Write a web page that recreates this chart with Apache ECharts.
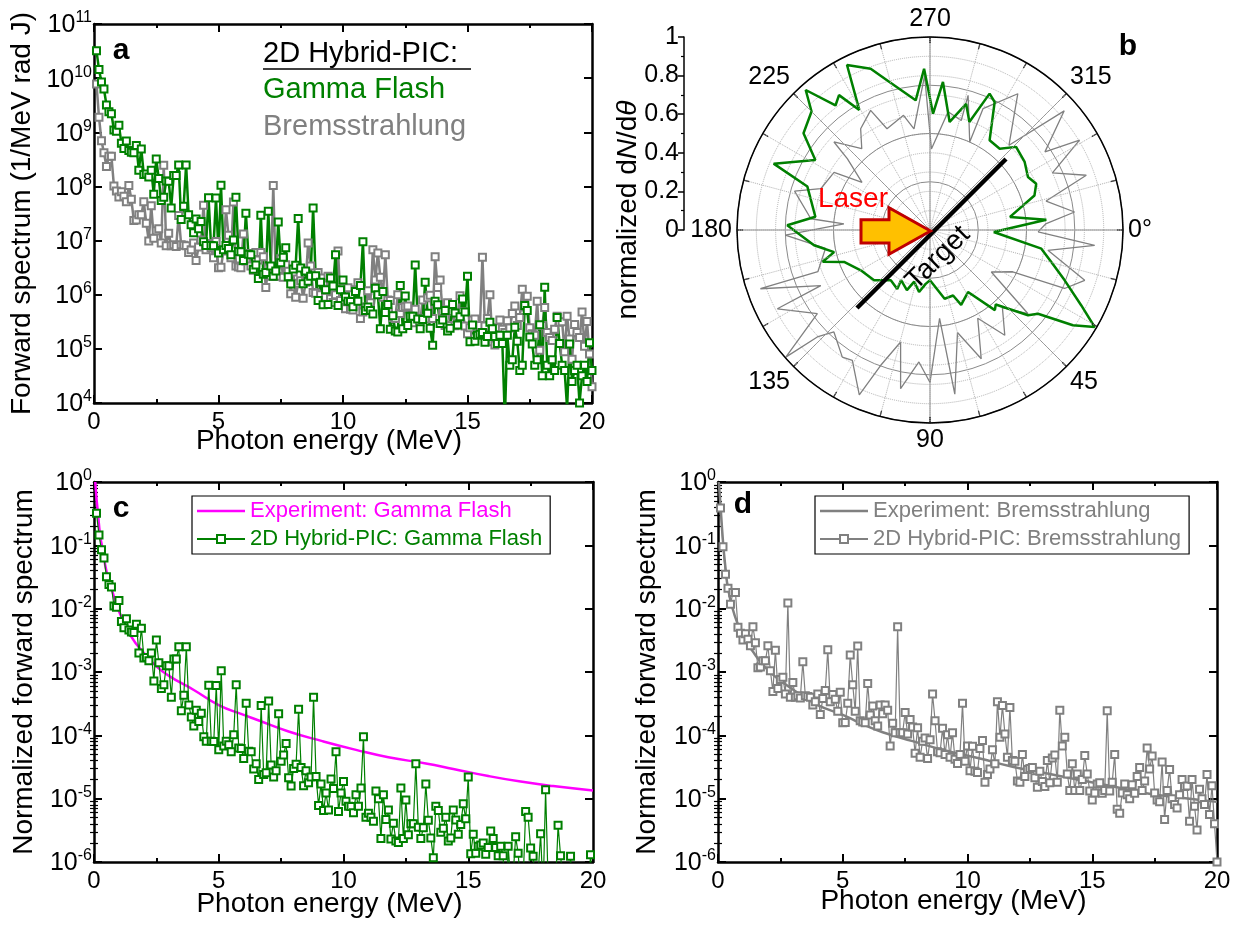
<!DOCTYPE html>
<html><head><meta charset="utf-8">
<script src="https://cdn.jsdelivr.net/npm/echarts@6/dist/echarts.min.js"></script>
<style>html,body{margin:0;padding:0;background:#fff}#chart{width:1244px;height:926px}</style>
</head><body><div id="chart"></div>
<script>
// ---------------- DATA ----------------
const energyMeV = [
0.1,0.2,0.3,0.4,0.5,0.6,0.7,0.8,0.9,1.0,
1.1,1.2,1.3,1.4,1.5,1.6,1.7,1.8,1.9,2.0,
2.1,2.2,2.3,2.4,2.5,2.6,2.7,2.8,2.9,3.0,
3.1,3.2,3.3,3.4,3.5,3.6,3.7,3.8,3.9,4.0,
4.1,4.2,4.3,4.4,4.5,4.6,4.7,4.8,4.9,5.0,
5.1,5.2,5.3,5.4,5.5,5.6,5.7,5.8,5.9,6.0,
6.1,6.2,6.3,6.4,6.5,6.6,6.7,6.8,6.9,7.0,
7.1,7.2,7.3,7.4,7.5,7.6,7.7,7.8,7.9,8.0,
8.1,8.2,8.3,8.4,8.5,8.6,8.7,8.8,8.9,9.0,
9.1,9.2,9.3,9.4,9.5,9.6,9.7,9.8,9.9,10.0,
10.1,10.2,10.3,10.4,10.5,10.6,10.7,10.8,10.9,11.0,
11.1,11.2,11.3,11.4,11.5,11.6,11.7,11.8,11.9,12.0,
12.1,12.2,12.3,12.4,12.5,12.6,12.7,12.8,12.9,13.0,
13.1,13.2,13.3,13.4,13.5,13.6,13.7,13.8,13.9,14.0,
14.1,14.2,14.3,14.4,14.5,14.6,14.7,14.8,14.9,15.0,
15.1,15.2,15.3,15.4,15.5,15.6,15.7,15.8,15.9,16.0,
16.1,16.2,16.3,16.4,16.5,16.6,16.7,16.8,16.9,17.0,
17.1,17.2,17.3,17.4,17.5,17.6,17.7,17.8,17.9,18.0,
18.1,18.2,18.3,18.4,18.5,18.6,18.7,18.8,18.9,19.0,
19.1,19.2,19.3,19.4,19.5,19.6,19.7,19.8,19.9,20.0];

// 2D Hybrid-PIC gamma flash, normalized (panel c)
const gammaFlashNorm = [
3.2e-1,1.45e-1,8.5e-2,6.3e-2,3.2e-2,2.4e-2,2.2e-2,1.1e-2,1.05e-2,1.35e-2,
6.3e-3,5.0e-3,6.9e-3,4.6e-3,4.3e-3,4.2e-3,5.7e-3,2.0e-3,4.9e-3,1.66e-3,
1.7e-3,1.5e-3,2.0e-3,7.2e-4,3.2e-3,1.4e-3,5.5e-4,6.3e-4,1.26e-3,1.25e-3,
4.0e-4,1.6e-3,1.6e-3,2.5e-3,2.45e-4,4.3e-4,2.5e-3,3.0e-4,1.95e-4,1.4e-4,
2.5e-4,1.66e-4,2.24e-4,9.5e-5,8.1e-5,6.2e-4,8.1e-5,8.0e-5,6.1e-4,5.9e-5,
1.05e-3,6.8e-5,8.1e-5,7.1e-5,5.5e-5,1.02e-4,6.3e-4,6.3e-5,6.2e-5,4.3e-5,
3.2e-4,5.6e-5,5.5e-5,2.95e-5,3.55e-5,2.0e-5,2.95e-4,2.4e-5,2.57e-5,3.47e-4,
3.4e-5,2.2e-5,2.75e-5,2.2e-4,3.9e-5,4.9e-5,7.4e-5,2.14e-5,1.58e-5,3.0e-5,
3.5e-5,2.57e-4,3.1e-5,1.6e-5,2.75e-5,1.78e-5,2.2e-5,4.0e-4,2.24e-5,7.8e-6,
1.7e-5,6.5e-6,1.23e-5,6.6e-6,2.04e-5,1.45e-5,5.5e-5,6.3e-6,1.23e-5,1.86e-5,
9.1e-6,7.6e-6,7.5e-6,6.0e-6,1.15e-5,7.6e-6,1.48e-5,9.5e-5,5.1e-6,5.9e-6,
5.1e-6,4.4e-6,1.32e-5,1.0e-5,2.34e-6,1.15e-5,4.7e-6,6.6e-6,2.3e-6,4.1e-6,
2.14e-6,2.04e-6,1.48e-5,2.34e-6,9.5e-6,2.7e-6,4.0e-6,4.0e-6,3.55e-5,3.55e-6,
2.34e-6,3.47e-6,1.7e-5,4.57e-6,2.4e-6,1.17e-6,7.6e-6,6.5e-6,2.95e-6,3.4e-6,
5.1e-6,2.14e-6,2.4e-6,6.6e-6,4.6e-6,2.75e-6,3.9e-6,8.3e-6,4.8e-6,2.2e-5,
1.35e-6,2.75e-6,1.38e-6,1.78e-6,1.86e-6,2.0e-6,1.32e-6,1.7e-6,3.1e-6,2.34e-6,
1.7e-6,1.26e-6,1.78e-6,1.26e-6,5e-8,1.78e-6,5e-7,6.3e-7,2.5e-6,1.38e-6,
4e-7,5e-7,6.3e-6,5.1e-6,1.66e-6,1.23e-6,5e-7,6.3e-7,2.8e-6,3.2e-7,
1.38e-5,5e-7,3.2e-7,6.3e-7,4e-7,3.8e-6,1.26e-6,5e-7,4e-7,8e-8,
1.23e-6,2.5e-7,4e-7,5e-7,1e-7,3.2e-7,5e-7,2.5e-7,1.3e-6,4e-7];

// 2D Hybrid-PIC bremsstrahlung, normalized (panel d)
const bremsNorm = [
3.9e-1,9.5e-2,3.5e-2,2.1e-2,1.17e-2,1.8e-2,1.8e-2,5.1e-3,4.1e-3,3.2e-3,
4.0e-3,3.3e-3,2.6e-3,5.2e-3,2.9e-3,1.17e-3,1.2e-3,1.5e-3,1.5e-3,2.6e-3,
1.05e-3,4.9e-4,2.2e-3,5.5e-4,7.6e-4,8.3e-4,4.5e-4,1.23e-2,4.0e-4,6.8e-4,
4.0e-4,4.2e-4,3.9e-4,1.45e-3,4.2e-4,4.1e-4,4.0e-4,3.0e-4,3.4e-4,4.5e-4,
2.14e-4,3.8e-4,5.1e-4,2.24e-3,3.4e-4,4.4e-4,3.7e-4,2.4e-4,4.8e-4,1.58e-4,
1.6e-4,3.2e-4,1.86e-3,6.3e-4,2.4e-4,2.57e-3,1.7e-4,1.62e-4,1.58e-4,6.6e-4,
2.1e-4,2.9e-4,1.7e-4,1.41e-4,3.0e-4,2.2e-4,3.0e-4,2.5e-4,6.8e-5,1.55e-4,
1.1e-4,5.2e-3,1.1e-4,1.1e-4,2.3e-4,1.05e-4,1.78e-4,1.35e-4,5.2e-5,1.32e-4,
4.5e-5,8.1e-5,9.1e-5,4.3e-5,8.5e-5,4.5e-4,1.7e-4,5.5e-5,5.3e-5,1.29e-4,
5.0e-5,1.02e-4,4.5e-5,1.1e-4,4.2e-5,3.6e-5,5.0e-5,3.2e-4,3.9e-5,6.8e-5,
2.75e-5,6.7e-5,2.7e-5,2.6e-5,6.2e-5,8.3e-5,1.82e-5,2.4e-5,2.95e-5,5.9e-5,
3.55e-5,3.4e-4,9.3e-5,2.95e-4,1.05e-4,4.5e-5,2.75e-4,4.0e-5,3.9e-5,1.9e-5,
1.82e-5,5.0e-5,2.24e-5,2.9e-5,3.0e-5,3.1e-5,2.14e-5,1.51e-5,2.7e-5,1.86e-5,
1.55e-5,4.0e-5,1.78e-5,4.4e-5,4.9e-5,1.82e-5,2.5e-4,6.8e-5,9.3e-5,2.45e-5,
1.35e-5,3.55e-5,1.35e-5,2.45e-5,1.34e-5,2.0e-5,4.8e-5,2.45e-5,1.32e-5,9.5e-6,
1.23e-5,1.7e-5,1.78e-5,1.22e-5,1.35e-5,2.45e-4,1.32e-5,1.82e-5,5.0e-5,6.8e-6,
5.9e-6,1.23e-5,1.7e-5,1.15e-5,1.0e-5,1.66e-5,1.22e-5,2.24e-5,3.1e-5,1.35e-5,
1.9e-5,6.3e-5,2.95e-5,4.7e-5,1.23e-5,9.5e-6,8.9e-6,3.8e-5,4.7e-6,1.35e-5,
2.9e-5,1.0e-5,8.1e-6,7.1e-6,1.15e-5,2.0e-5,1.55e-5,1.58e-5,4.4e-6,2.0e-5,
7.6e-6,3.2e-6,1.41e-5,1.0e-5,8.1e-6,2.4e-5,5.6e-6,1.6e-5,4.0e-6,1.0e-6];

// normalization factors between absolute (panel a) and normalized (panels c, d) spectra
const GAMMA_FLASH_NORM_FACTOR = 1e11;
const BREMS_NORM_FACTOR = 2e10;

// experiment fits (panels c, d)
const expGammaE   = [0.05,0.1,0.15,0.25,0.35,0.5,0.75,1,1.5,2,2.5,3,4,5,6,6.5,7.8,9.15,10.5,11.8,13.3,14.4,15.75,17.1,18.4,20];
const expGammaVal = [1.0,0.55,0.35,0.14,0.085,0.039,0.018,9.1e-3,3.6e-3,2.0e-3,1.23e-3,8.7e-4,5.2e-4,3.0e-4,2.1e-4,1.78e-4,1.15e-4,8.1e-5,5.9e-5,4.5e-5,3.6e-5,2.95e-5,2.3e-5,1.86e-5,1.58e-5,1.35e-5];
const expBremsE   = [0.03,0.08,0.2,0.3,0.4,0.6,0.8,1.0,1.4,1.8,2.2,2.6,3.2,4.0,5.0,6.0,6.6,7.8,9.15,10.5,11.8,13.2,14.4,15.75,17.1,18.4,20];
const expBremsVal = [1.0,0.56,0.115,0.044,0.021,9.6e-3,5.6e-3,3.6e-3,2.1e-3,1.3e-3,9.1e-4,6.8e-4,4.7e-4,3.0e-4,2.1e-4,1.38e-4,1.12e-4,8.1e-5,5.7e-5,4.3e-5,3.2e-5,2.5e-5,2.0e-5,1.58e-5,1.23e-5,1.05e-5,8.9e-6];

// angular distribution (panel b)
const greenAngleDeg = [1.8,9.5,14.8,20.5,26.5,30.5,33.7,37.8,41,48.6,51,58.5,67.4,70.6,78,90,94.6,100,107,111,120,119,128,138,149.8,159.6,163.5,167,172.5,181.9,186.6,199.5,203,211.4,217.4,225,228.4,232.8,236,239.5,243.3,249.8,255,263.7,267.9,271.5,275,280.3,286,290,293.6,296.8,303.6,310.6,316,324.3,331.6,336.5,341.7,350.7,355,1.8];
const greenRadius   = [0.33,0.585,0.65,0.745,0.876,0.99,0.89,0.708,0.673,0.515,0.534,0.377,0.42,0.36,0.364,0.26,0.28,0.326,0.28,0.334,0.30,0.35,0.33,0.39,0.415,0.475,0.58,0.51,0.606,0.74,0.598,0.674,0.88,0.696,0.825,0.868,0.97,0.81,0.843,0.722,0.957,0.89,0.79,0.676,0.836,0.603,0.77,0.569,0.68,0.596,0.771,0.743,0.558,0.555,0.62,0.604,0.577,0.6,0.57,0.42,0.605,0.33];
const grayAngleDeg  = [1,5.3,9.8,18,23.5,26.8,34.4,40.5,47,54.6,61.6,68.3,75,81.4,83.8,90,94.8,100.5,104.7,110,113.2,120.8,124.6,133.3,136.5,138.6,143.4,152.7,153,160.9,159.6,170,178,184,185.4,196,200.7,211,215,220.8,222.5,230,235.6,243.6,247,257,261,268,271,278.7,285.9,285.8,294.3,293.6,302.8,307.5,313,318.4,325.8,329,335,340.7,346,352.9,357,1];
const grayRadius    = [0.56,0.857,0.62,0.843,0.76,0.48,0.385,0.668,0.55,0.669,0.52,0.718,0.55,0.86,0.46,0.79,0.686,0.836,0.6,0.746,0.93,0.786,0.8,0.726,0.805,0.996,0.727,0.89,0.635,0.93,0.62,0.55,0.75,0.447,0.62,0.73,0.605,0.58,0.43,0.566,0.675,0.55,0.636,0.692,0.57,0.61,0.53,0.8,0.42,0.62,0.59,0.725,0.5,0.686,0.84,0.706,0.6,0.93,0.72,0.904,0.7,0.858,0.62,0.755,0.6,0.56];

const xTickInterval = 5;
const radialTicks = 0.2;

// ---------------- STYLE ----------------
const FONT = '"Liberation Sans", Arial, Helvetica, sans-serif';
const BLACK = '#000';
const GREEN = '#008000';
const GRAY = '#808080';
const MAGENTA = '#ff00ff';

function supLabel(v){ const e = Math.round(Math.log10(v)); return '{b|10}{s|' + e + '}'; }
const supRich = {
  b:{fontSize:25, fontFamily:FONT, color:BLACK, lineHeight:28, verticalAlign:'bottom'},
  s:{fontSize:16, fontFamily:FONT, color:BLACK, lineHeight:16, verticalAlign:'top'}
};
const minorLogTicks = [];
for (let k=-6;k<0;k++){ for (let m=2;m<=9;m++){ minorLogTicks.push(m*Math.pow(10,k)); } }

function xAxesFor(grid, nameGap){
  const base = {gridIndex:grid, type:'value', min:0, max:20, interval:xTickInterval,
    axisLine:{onZero:false, lineStyle:{color:BLACK, width:2.5}},
    axisTick:{inside:true, length:8, lineStyle:{color:BLACK, width:2}},
    minorTick:{show:true, splitNumber:2, length:4, lineStyle:{color:BLACK, width:2}},
    splitLine:{show:false}};
  return [
    Object.assign({}, base, {position:'bottom',
      axisLabel:{fontSize:24, fontFamily:FONT, color:BLACK, margin:7},
      name:'Photon energy (MeV)', nameLocation:'middle', nameGap:nameGap, nameMoveOverlap:false,
      nameTextStyle:{fontSize:28, fontFamily:FONT, color:BLACK, padding:[0,28,0,0]}}),
    Object.assign({}, base, {position:'top', axisLabel:{show:false}})
  ];
}
function yAxesFor(grid, min, max, split, name, nameGap){
  const base = {gridIndex:grid, type:'log', logBase:10, min:min, max:max, splitNumber:split,
    axisLine:{onZero:false, lineStyle:{color:BLACK, width:2.5}},
    axisTick:{inside:true, length:8, lineStyle:{color:BLACK, width:2}},
    splitLine:{show:false}};
  return [
    Object.assign({}, base, {position:'left',
      axisLabel:{formatter:supLabel, rich:supRich, margin:2},
      name:name, nameLocation:'middle', nameGap:nameGap, nameMoveOverlap:false,
      nameTextStyle:{fontSize:28, fontFamily:FONT, color:BLACK}}),
    Object.assign({}, base, {position:'right', axisLabel:{show:false}})
  ];
}
function minorYAxes(grid){
  const base = {gridIndex:grid, type:'log', logBase:10, min:1e-6, max:1,
    axisLine:{show:false}, axisLabel:{show:false}, splitLine:{show:false},
    axisTick:{show:true, inside:true, length:4, customValues:minorLogTicks, lineStyle:{color:BLACK, width:1.2}}};
  return [Object.assign({}, base, {position:'left'}), Object.assign({}, base, {position:'right'})];
}

const xAxis = [].concat(
  xAxesFor(0, 24),
  xAxesFor(1, 28),
  xAxesFor(2, 25),
  [{gridIndex:3, type:'value', show:false, min:0, max:1}]
);
const yAxis = [].concat(
  yAxesFor(0, 1e4, 1e11, 7, 'Forward spectrum (1/MeV rad J)', 58),
  yAxesFor(1, 1e-6, 1, 6, 'Normalized forward spectrum', 56),
  yAxesFor(2, 1e-6, 1, 6, 'Normalized forward spectrum', 57),
  [{gridIndex:3, type:'value', min:0, max:1, interval:radialTicks, position:'left',
    axisLine:{show:true, lineStyle:{color:BLACK, width:1.5}},
    axisTick:{show:true, length:6, lineStyle:{color:BLACK, width:1.5}},
    minorTick:{show:true, splitNumber:2, length:3, lineStyle:{color:BLACK, width:1.2}},
    splitLine:{show:false},
    axisLabel:{fontSize:25, fontFamily:FONT, color:BLACK, margin:5}}],
  minorYAxes(1),
  minorYAxes(2)
);

const pairs = (xs, ys, f) => xs.map((x,i)=>[x, ys[i]*(f||1)]);

const scatterLine = (name, xi, yi, data, color, lw, sw, ss) => ({
  type:'line', name:name, xAxisIndex:xi, yAxisIndex:yi, data:data,
  symbol:'emptyRect', symbolSize:ss, showAllSymbol:true,
  lineStyle:{color:color, width:lw}, itemStyle:{color:color, borderColor:color, borderWidth:sw},
  emphasis:{disabled:true}, clip:true, z:3
});

const series = [
  scatterLine('Bremsstrahlung (abs)', 0, 0, pairs(energyMeV, bremsNorm, BREMS_NORM_FACTOR), GRAY, 2.5, 2, 7),
  scatterLine('Gamma Flash (abs)', 0, 0, pairs(energyMeV, gammaFlashNorm, GAMMA_FLASH_NORM_FACTOR), GREEN, 2.5, 2, 7),
  {type:'line', name:'Experiment: Gamma Flash', xAxisIndex:2, yAxisIndex:2, data:pairs(expGammaE, expGammaVal),
    smooth:true, showSymbol:false, symbol:'none', lineStyle:{color:MAGENTA, width:2.5}, itemStyle:{color:MAGENTA}, clip:true, z:2},
  scatterLine('2D Hybrid-PIC: Gamma Flash', 2, 2, pairs(energyMeV, gammaFlashNorm), GREEN, 1.2, 1.4, 7),
  {type:'line', name:'Experiment: Bremsstrahlung', xAxisIndex:4, yAxisIndex:4, data:pairs(expBremsE, expBremsVal),
    smooth:true, showSymbol:false, symbol:'none', lineStyle:{color:GRAY, width:2.5}, itemStyle:{color:GRAY}, clip:true, z:2},
  scatterLine('2D Hybrid-PIC: Bremsstrahlung', 4, 4, pairs(energyMeV, bremsNorm), GRAY, 1.2, 1.4, 7),
  {type:'line', name:'polar brems', coordinateSystem:'polar', polarIndex:0,
    data: grayAngleDeg.map((a,i)=>[grayRadius[i], a]), symbol:'none', showSymbol:false,
    lineStyle:{color:GRAY, width:1.3}, itemStyle:{color:GRAY}, z:3},
  {type:'line', name:'polar gamma', coordinateSystem:'polar', polarIndex:0,
    data: greenAngleDeg.map((a,i)=>[greenRadius[i], a]), symbol:'none', showSymbol:false,
    lineStyle:{color:GREEN, width:2.5}, itemStyle:{color:GREEN}, z:4}
];

const lineIcon = 'path://M0,0 L48,0 L48,2.6 L0,2.6 Z';
const legendBase = {orient:'vertical', selectedMode:false, borderColor:BLACK, borderWidth:1.2,
  padding:[4,8,4,4], itemWidth:48, itemHeight:10, itemGap:6, itemStyle:{borderWidth:1.4},
  symbolKeepAspect:true, textStyle:{fontSize:22, fontFamily:FONT}};

const angleFmt = v => v===0 ? '0°' : (v===360 ? '' : String(v));

const graphic = [
  {type:'text', x:121, y:51, z:100, style:{text:'a', fontSize:30, fontWeight:'bold', fontFamily:FONT, fill:BLACK, align:'center', verticalAlign:'middle'}},
  {type:'text', x:1128, y:47, z:100, style:{text:'b', fontSize:30, fontWeight:'bold', fontFamily:FONT, fill:BLACK, align:'center', verticalAlign:'middle'}},
  {type:'text', x:121, y:509, z:100, style:{text:'c', fontSize:30, fontWeight:'bold', fontFamily:FONT, fill:BLACK, align:'center', verticalAlign:'middle'}},
  {type:'text', x:743, y:505, z:100, style:{text:'d', fontSize:30, fontWeight:'bold', fontFamily:FONT, fill:BLACK, align:'center', verticalAlign:'middle'}},
  {type:'text', x:263, y:54, z:100, style:{text:'2D Hybrid-PIC:', fontSize:29, fontFamily:FONT, fill:BLACK, align:'left', verticalAlign:'middle'}},
  {type:'line', z:100, shape:{x1:263, y1:69, x2:471, y2:69}, style:{stroke:BLACK, lineWidth:1.5}},
  {type:'text', x:263, y:90, z:100, style:{text:'Gamma Flash', fontSize:29, fontFamily:FONT, fill:GREEN, align:'left', verticalAlign:'middle'}},
  {type:'text', x:263, y:127, z:100, style:{text:'Bremsstrahlung', fontSize:29, fontFamily:FONT, fill:GRAY, align:'left', verticalAlign:'middle'}},
  {type:'text', x:628, y:210, z:100, rotation:Math.PI/2, style:{text:'normalized d{i|N}/d{i|θ}', rich:{i:{fontStyle:'italic', fontSize:28, fontFamily:FONT, fill:BLACK}}, fontSize:28, fontFamily:FONT, fill:BLACK, align:'center', verticalAlign:'middle'}},
  {type:'line', z:100, shape:{x1:857, y1:308, x2:1006, y2:159}, style:{stroke:BLACK, lineWidth:4.5}},
  {type:'polygon', z:101, shape:{points:[[861,219.7],[889,219.7],[889,207.7],[930.5,231],[889,254.3],[889,243],[861,243]]}, style:{fill:'#FFC000', stroke:'#C00000', lineWidth:3}},
  {type:'text', x:853, y:199, z:101, style:{text:'Laser', fontSize:28, fontFamily:FONT, fill:'#ff0000', align:'center', verticalAlign:'middle'}},
  {type:'text', x:938, y:258, z:101, rotation:Math.PI/4, style:{text:'Target', fontSize:28, fontFamily:FONT, fill:BLACK, align:'center', verticalAlign:'middle'}}
];

const option = {
  animation:false,
  backgroundColor:'#fff',
  textStyle:{fontFamily:FONT},
  grid:[
    {left:94, top:24, width:498, height:379},
    {left:94, top:482, width:499, height:380},
    {left:718, top:482, width:499, height:380},
    {left:684, top:37, width:10, height:193}
  ],
  xAxis:xAxis,
  yAxis:yAxis,
  polar:[{center:[930,230], radius:193},{center:[930,230], radius:193}],
  angleAxis:[
    {polarIndex:0, type:'value', min:0, max:360, interval:15, startAngle:0, clockwise:true, z:5,
      axisLine:{show:true, lineStyle:{color:BLACK, width:1.5}},
      axisTick:{show:true, inside:true, length:6, lineStyle:{color:BLACK, width:1.2}},
      axisLabel:{show:false},
      splitLine:{show:true, lineStyle:{color:'#b0b0b0', type:'dotted', width:1}}},
    {polarIndex:1, type:'value', min:0, max:360, interval:45, startAngle:0, clockwise:true,
      axisLine:{show:false}, axisTick:{show:false},
      axisLabel:{show:true, formatter:angleFmt, fontSize:25, fontFamily:FONT, color:BLACK, margin:5},
      splitLine:{show:true, lineStyle:{color:'#8a8a8a', width:1}}}
  ],
  radiusAxis:[
    {polarIndex:0, type:'value', min:0, max:1, interval:0.1,
      axisLine:{show:false}, axisTick:{show:false}, axisLabel:{show:false},
      splitLine:{show:true, lineStyle:{color:'#b0b0b0', type:'dotted', width:1}}},
    {polarIndex:1, type:'value', min:0, max:0.8, interval:0.2,
      axisLine:{show:false}, axisTick:{show:false}, axisLabel:{show:false},
      splitLine:{show:true, lineStyle:{color:'#8a8a8a', width:1}}}
  ],
  legend:[
    Object.assign({}, legendBase, {left:192, top:496,
      data:[{name:'Experiment: Gamma Flash', icon:lineIcon, textStyle:{color:MAGENTA}}, {name:'2D Hybrid-PIC: Gamma Flash', textStyle:{color:GREEN}}]}),
    Object.assign({}, legendBase, {left:815, top:496,
      data:[{name:'Experiment: Bremsstrahlung', icon:lineIcon, textStyle:{color:GRAY}}, {name:'2D Hybrid-PIC: Bremsstrahlung', textStyle:{color:GRAY}}]})
  ],
  series:series,
  graphic:graphic
};

const chart = echarts.init(document.getElementById('chart'), null, {renderer:'canvas'});
chart.setOption(option);
</script>
</body></html>
